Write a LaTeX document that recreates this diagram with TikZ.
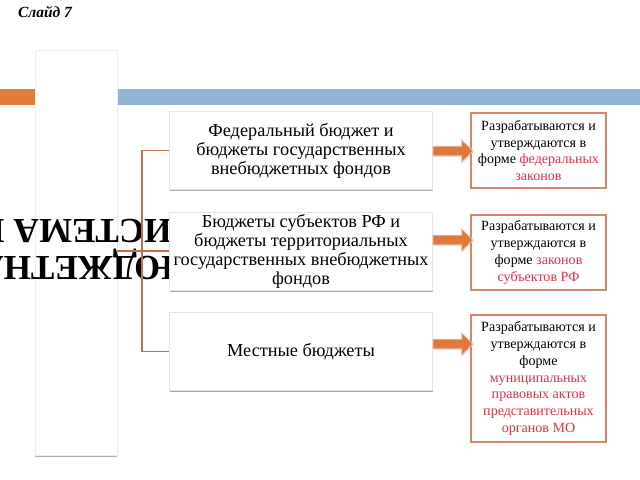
\documentclass[tikz,border=0pt]{standalone}
\usepackage{fontspec}
\setmainfont{Liberation Serif}
\usetikzlibrary{shapes,shadows}
\usepackage{xcolor}
\definecolor{barorange}{RGB}{226,125,60}
\definecolor{barblue}{RGB}{149,179,215}
\definecolor{lawborder}{RGB}{215,132,108}
\definecolor{lawred}{RGB}{228,48,70}
\definecolor{tiecolor}{RGB}{190,112,78}
\definecolor{arroworange}{RGB}{224,120,60}
\newcommand{\redword}[1]{\textcolor{lawred}{#1}}

\begin{document}
\begin{tikzpicture}[x=0.025cm,y=-0.025cm]
    \tikzstyle{budget}=[rectangle,draw=black!10,fill=white,minimum width=6.575cm,minimum height=1.95cm,inner sep=1pt,align=center,font=\fontsize{13}{13.5}\selectfont,drop shadow={shadow xshift=0.4pt,shadow yshift=-1.2pt,fill=black!55,opacity=0.6}]
    \tikzstyle{law}=[rectangle,draw=lawborder,line width=0.9pt,fill=white,minimum width=3.375cm,inner sep=2pt,align=center,font=\fontsize{10}{12}\selectfont]
    \tikzstyle{pointer}=[single arrow,fill=arroworange,draw=arroworange!40,line width=0.6pt,minimum height=1cm,inner xsep=0pt,inner ysep=1.1mm,single arrow head extend=1.6mm,single arrow tip angle=90,drop shadow={shadow xshift=0.3pt,shadow yshift=-0.5pt,fill=black!40,opacity=0.5}]
    \tikzstyle{tie}=[draw=tiecolor,line width=0.8pt]
    \useasboundingbox (0,0) rectangle (640,480);
    \fill[barorange] (0,89) rectangle (35,105);
    \fill[barblue] (117,89) rectangle (640,105);
    \node[rectangle,draw=black!7,fill=white,minimum width=2.05cm,minimum height=10.125cm,drop shadow={shadow xshift=0pt,shadow yshift=-1.2pt,fill=black!55,opacity=0.6}] (root) at (76,252.5) {};
    \node[rotate=180,align=left,inner sep=0pt,font=\fontsize{25}{26.3}\selectfont\bfseries] (title) at (75,249) {БЮДЖЕТНАЯ\\СИСТЕМА РФ};
    \node[font=\fontsize{11}{12}\selectfont\bfseries\itshape] (slide) at (45,12.5) {Слайд 7};
    \node[budget] (fed) at (301,150.5) {Федеральный бюджет и\\бюджеты государственных\\внебюджетных фондов};
    \node[budget] (reg) at (301,251) {Бюджеты субъектов РФ и\\бюджеты территориальных\\государственных внебюджетных\\фондов};
    \node[budget] (loc) at (301,351.5) {Местные бюджеты};
    \coordinate (fork) at (142,251);
    \draw[tie] (root.east |- reg.west) -- (reg.west);
    \draw[tie] (fed.west) -| (fork) |- (loc.west);
    \node[law,minimum height=1.875cm] (fedlaw) at (538.5,150.5) {Разрабатываются и\\утверждаются в\\форме \redword{федеральных}\\\redword{законов}};
    \node[law,minimum height=1.875cm] (reglaw) at (538.5,252.5) {Разрабатываются и\\утверждаются в\\форме \redword{законов}\\\redword{субъектов РФ}};
    \node[law,minimum height=3.175cm] (loclaw) at (538.5,378.5) {Разрабатываются и\\утверждаются в\\форме\\\redword{муниципальных}\\\redword{правовых актов}\\\redword{представительных}\\\redword{органов МО}};
    \node[pointer] (p1) at (450.5,151) {};
    \node[pointer] (p2) at (450.5,240) {};
    \node[pointer] (p3) at (450.5,344) {};
\end{tikzpicture}
\end{document}
